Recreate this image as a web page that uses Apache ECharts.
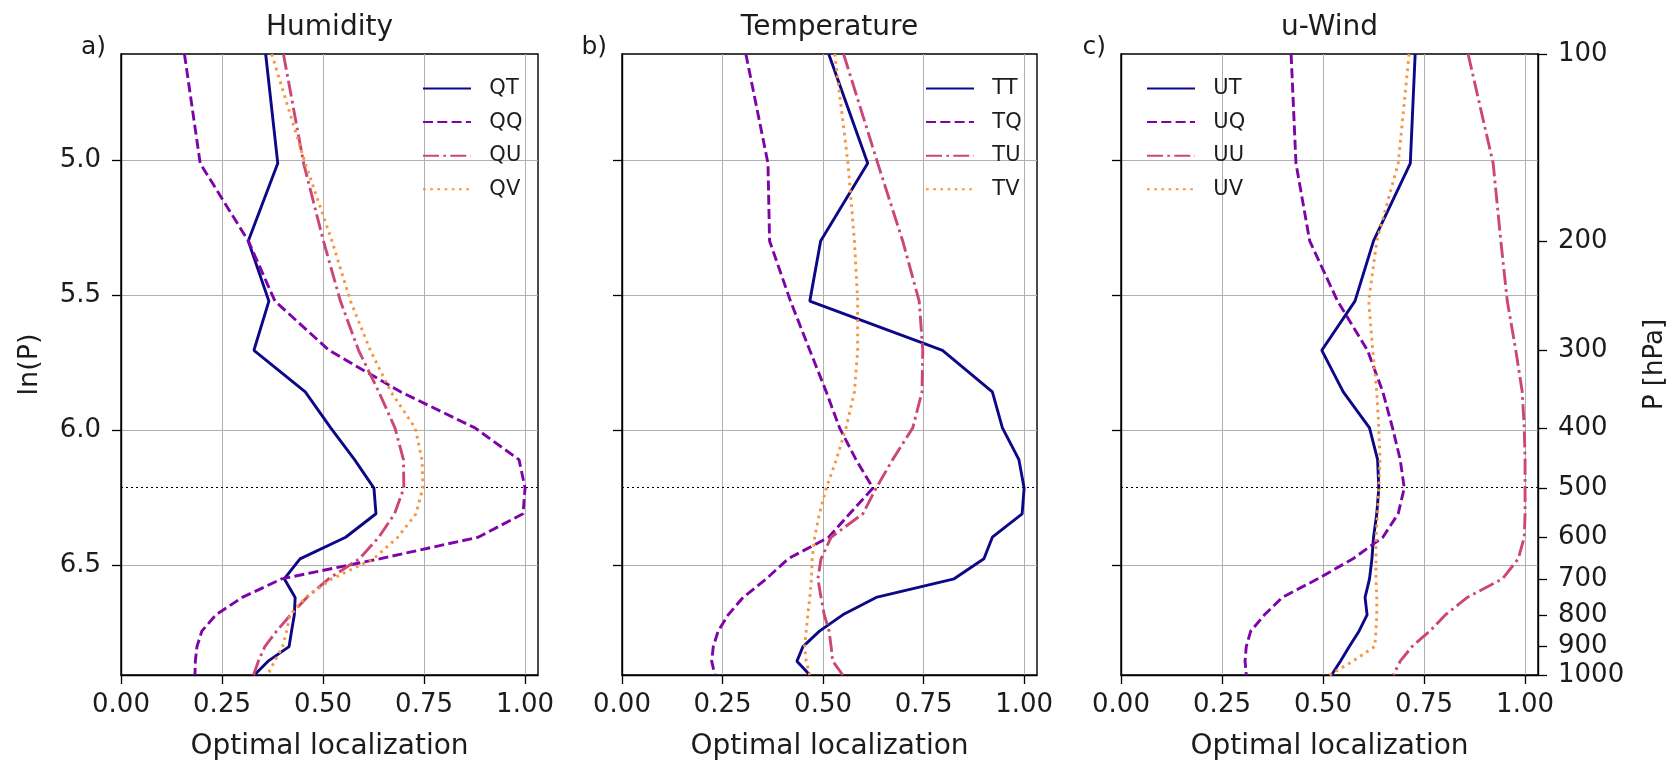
<!DOCTYPE html>
<html><head><meta charset="utf-8">
<script src="https://cdn.jsdelivr.net/npm/echarts@6/dist/echarts.min.js"></script>
<style>html,body{margin:0;padding:0;background:#fff}#c{width:1668px;height:761px}</style>
</head><body><div id="c"></div>
<script>
// Pressure levels (hPa), top to bottom
const pLevels = [100,150,200,250,300,350,400,450,500,550,600,650,700,750,800,850,900,950,1000];

// Panel a) Humidity
const QT = [0.358,0.388,0.315,0.366,0.329,0.456,0.519,0.578,0.626,0.631,0.556,0.443,0.404,0.431,0.429,0.422,0.416,0.364,0.330];
const QQ = [0.157,0.196,0.315,0.381,0.515,0.692,0.876,0.985,1.000,0.995,0.884,0.640,0.398,0.300,0.235,0.200,0.188,0.184,0.183];
const QU = [0.402,0.452,0.501,0.543,0.588,0.638,0.678,0.699,0.700,0.677,0.638,0.590,0.514,0.460,0.420,0.385,0.356,0.340,0.328];
const QV = [0.373,0.456,0.522,0.568,0.617,0.668,0.728,0.745,0.747,0.730,0.685,0.625,0.522,0.457,0.418,0.410,0.400,0.380,0.363];

// Panel b) Temperature
const TT = [0.514,0.611,0.494,0.467,0.797,0.921,0.946,0.987,1.000,0.995,0.921,0.900,0.826,0.632,0.549,0.491,0.450,0.435,0.467];
const TQ = [0.308,0.363,0.367,0.419,0.467,0.508,0.541,0.582,0.624,0.566,0.514,0.413,0.359,0.301,0.264,0.239,0.227,0.223,0.231];
const TU = [0.551,0.636,0.698,0.739,0.748,0.746,0.723,0.673,0.632,0.599,0.520,0.495,0.487,0.495,0.503,0.515,0.520,0.524,0.549];
const TV = [0.529,0.562,0.578,0.586,0.586,0.578,0.557,0.533,0.508,0.491,0.479,0.473,0.471,0.467,0.462,0.458,0.454,0.458,0.467];

// Panel c) u-Wind
const UT = [0.728,0.716,0.625,0.579,0.497,0.550,0.615,0.635,0.638,0.633,0.625,0.621,0.615,0.604,0.609,0.589,0.565,0.543,0.521];
const UQ = [0.421,0.433,0.467,0.536,0.610,0.648,0.672,0.691,0.701,0.686,0.648,0.574,0.487,0.399,0.355,0.321,0.310,0.307,0.310];
const UU = [0.859,0.921,0.940,0.956,0.977,0.993,0.998,1.000,1.000,1.000,0.998,0.983,0.944,0.857,0.803,0.764,0.720,0.691,0.674];
const UV = [0.713,0.686,0.633,0.613,0.623,0.633,0.638,0.641,0.638,0.635,0.631,0.631,0.631,0.633,0.633,0.631,0.628,0.574,0.516];

const panelTitles = ['Humidity','Temperature','u-Wind'];
const panelTags = ['a)','b)','c)'];
const seriesNames = [['QT','QQ','QU','QV'],['TT','TQ','TU','TV'],['UT','UQ','UU','UV']];
const seriesValues = [[QT,QQ,QU,QV],[TT,TQ,TU,TV],[UT,UQ,UU,UV]];
const lnTicks = [5.0,5.5,6.0,6.5];
const pTicks = [100,200,300,400,500,600,700,800,900,1000];
const xTicks = [0,0.25,0.5,0.75,1.0];
const refLevel = 500;

const FONT = '"DejaVu Sans", sans-serif';
const TXT = '#1c1c1c';
const colors = ['#0d0887','#7e03a8','#cc4778','#f89540'];
const dashes = ['solid',[10,4.3],[16,4.3,2.7,4.3],[2.7,4.5]];
const gridLefts = [121,622,1121];
const gridWidths = [417,415,417];
const gridTop = 54, gridHeight = 621;
const yMin = Math.log(100), yMax = Math.log(1000);
const legendLefts = [417,920,1141];

const grids = [], xAxes = [], yAxes = [], series = [], legends = [], graphics = [];
for (let i = 0; i < 3; i++) {
  grids.push({left: gridLefts[i], top: gridTop, width: gridWidths[i], height: gridHeight,
    containLabel: false, outerBoundsMode: 'none',
    show: true, borderColor: '#000', borderWidth: 1.4, backgroundColor: 'transparent'});
  xAxes.push({gridIndex: i, type: 'value', min: 0, max: 1.032,
    axisLine: {show: true, onZero: false, lineStyle: {color: '#000', width: 1.4}},
    axisTick: {show: true, customValues: xTicks, length: 9, lineStyle: {color: '#000', width: 1.3}},
    axisLabel: {customValues: xTicks, formatter: v => v.toFixed(2), fontSize: 26, color: TXT, margin: 17, fontFamily: FONT},
    splitLine: {show: true, lineStyle: {color: '#b0b0b0', width: 1}},
    name: 'Optimal localization', nameLocation: 'middle', nameGap: 58,
    nameTextStyle: {fontSize: 28, color: TXT, fontFamily: FONT}});
  yAxes.push({gridIndex: i, type: 'value', inverse: true, min: yMin, max: yMax,
    axisLine: {show: true, onZero: false, lineStyle: {color: '#000', width: 1.4}},
    axisTick: {show: true, customValues: lnTicks, length: 9, lineStyle: {color: '#000', width: 1.3}},
    axisLabel: {show: i === 0, customValues: lnTicks, formatter: v => v.toFixed(1), fontSize: 26, color: TXT, margin: 20, fontFamily: FONT},
    splitLine: {show: true, lineStyle: {color: '#b0b0b0', width: 1}},
    name: i === 0 ? 'ln(P)' : '', nameLocation: 'middle', nameGap: 78,
    nameTextStyle: {fontSize: 27, color: TXT, fontFamily: FONT}});
  for (let j = 0; j < 4; j++) {
    const vals = seriesValues[i][j];
    const s = {type: 'line', name: seriesNames[i][j], xAxisIndex: i, yAxisIndex: i,
      data: pLevels.map((p, k) => [vals[k], Math.log(p)]),
      symbol: 'none', smooth: false, animation: false, z: 3 + j,
      lineStyle: {color: colors[j], width: 2.9, type: dashes[j]},
      itemStyle: {color: colors[j]}};
    if (j === 0) {
      s.markLine = {silent: true, symbol: 'none', animation: false, label: {show: false},
        lineStyle: {color: '#000', type: [2, 3], width: 1.2},
        data: [{yAxis: Math.log(refLevel)}]};
    }
    series.push(s);
  }
  legends.push({data: seriesNames[i], orient: 'vertical', left: legendLefts[i], top: 73,
    itemWidth: 48, itemHeight: 21, itemGap: 12.6, selectedMode: false,
    itemStyle: {opacity: 0},
    formatter: n => '  ' + n,
    textStyle: {fontSize: 21, color: TXT, fontFamily: FONT}});
  graphics.push({type: 'text', x: gridLefts[i] + gridWidths[i] / 2, y: 28,
    style: {text: panelTitles[i], fontSize: 28, fontFamily: FONT, fill: TXT, align: 'center', verticalAlign: 'middle'}});
  graphics.push({type: 'text', x: gridLefts[i] - 15, y: 47,
    style: {text: panelTags[i], fontSize: 25, fontFamily: FONT, fill: TXT, align: 'right', verticalAlign: 'middle'}});
}
// right pressure axis on panel c
yAxes.push({gridIndex: 2, type: 'value', position: 'right', inverse: true, min: yMin, max: yMax,
  axisLine: {show: true, onZero: false, lineStyle: {color: '#000', width: 1.4}},
  axisTick: {show: true, customValues: pTicks.map(p => Math.log(p)), length: 9, lineStyle: {color: '#000', width: 1.3}},
  axisLabel: {customValues: pTicks.map(p => Math.log(p)), formatter: v => String(Math.round(Math.exp(v))),
    fontSize: 26, color: TXT, margin: 20, fontFamily: FONT},
  splitLine: {show: false},
  name: 'P [hPa]', nameLocation: 'middle', nameRotate: 90, nameGap: 104,
  nameTextStyle: {fontSize: 26, color: TXT, fontFamily: FONT}});

const chart = echarts.init(document.getElementById('c'), null, {renderer: 'canvas'});
chart.setOption({
  animation: false,
  backgroundColor: '#fff',
  textStyle: {fontFamily: FONT},
  grid: grids, xAxis: xAxes, yAxis: yAxes, series: series, legend: legends,
  graphic: {elements: graphics}
});
</script></body></html>
